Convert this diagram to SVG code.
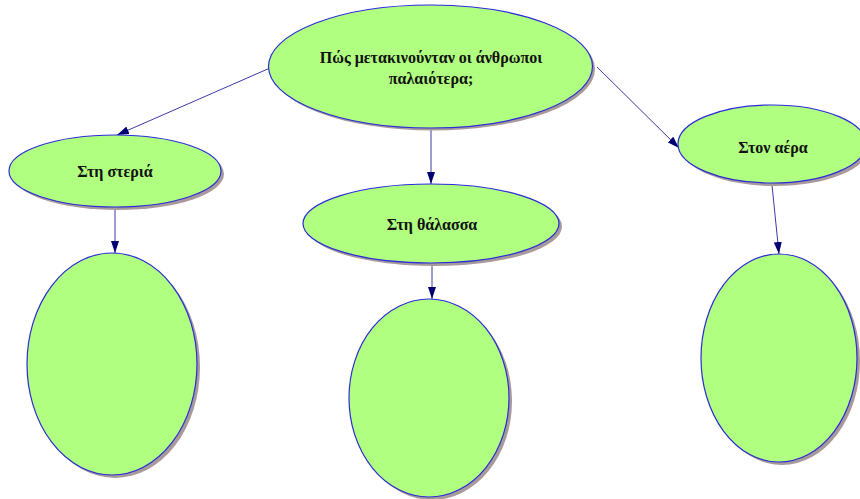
<svg xmlns="http://www.w3.org/2000/svg" width="860" height="499" viewBox="0 0 860 499">
<defs>
<style>
.sh{fill:#a89a9a;}
.nd{fill:#b0ff80;stroke:#2b2bd8;stroke-width:1.2;}
.t{font-family:"Liberation Serif","Times New Roman",serif;font-weight:bold;font-size:16px;fill:#111;text-anchor:middle;}
.c{stroke:#3a3aa8;stroke-width:1;fill:none;marker-end:url(#ah);}
</style>
<marker id="ah" viewBox="0 0 12 8" refX="12" refY="4" markerWidth="12" markerHeight="8" markerUnits="userSpaceOnUse" orient="auto">
<path d="M0,0 L12,4 L0,8 Z" fill="#000070"/>
</marker>
</defs>
<rect width="860" height="499" fill="#ffffff"/>
<g id="connectors">
<line class="c" x1="270" y1="68" x2="117" y2="135"/>
<line class="c" x1="431" y1="128" x2="431" y2="184"/>
<line class="c" x1="597" y1="67" x2="679" y2="148"/>
<line class="c" x1="115" y1="207" x2="115" y2="253"/>
<line class="c" x1="432" y1="263" x2="432" y2="299"/>
<line class="c" x1="772" y1="185" x2="779" y2="254"/>
</g>
<g id="root">
<ellipse class="sh" cx="433" cy="69" rx="162" ry="61.5"/>
<ellipse class="nd" cx="430.5" cy="66.5" rx="162" ry="61.5"/>
<text class="t" x="431" y="63">Πώς μετακινούνταν οι άνθρωποι</text>
<text class="t" x="431" y="84">παλαιότερα;</text>
</g>
<g id="land">
<ellipse class="sh" cx="118" cy="174" rx="106" ry="36"/>
<ellipse class="nd" cx="115" cy="171" rx="106" ry="36"/>
<text class="t" x="115" y="177">Στη στεριά</text>
</g>
<g id="sea">
<ellipse class="sh" cx="434" cy="226.5" rx="128" ry="39.5"/>
<ellipse class="nd" cx="431" cy="223.5" rx="128" ry="39.5"/>
<text class="t" x="432" y="230">Στη θάλασσα</text>
</g>
<g id="air">
<ellipse class="sh" cx="775" cy="147" rx="94" ry="39"/>
<ellipse class="nd" cx="772" cy="144" rx="94" ry="39"/>
<text class="t" x="773" y="153">Στον αέρα</text>
</g>
<g id="land-box">
<ellipse class="sh" cx="115" cy="367" rx="85" ry="111"/>
<ellipse class="nd" cx="112" cy="364" rx="85" ry="111"/>
</g>
<g id="sea-box">
<ellipse class="sh" cx="432" cy="401" rx="80" ry="99"/>
<ellipse class="nd" cx="429" cy="398" rx="80" ry="99"/>
</g>
<g id="air-box">
<ellipse class="sh" cx="782" cy="361" rx="78" ry="104"/>
<ellipse class="nd" cx="779" cy="358" rx="78" ry="104"/>
</g>
</svg>
